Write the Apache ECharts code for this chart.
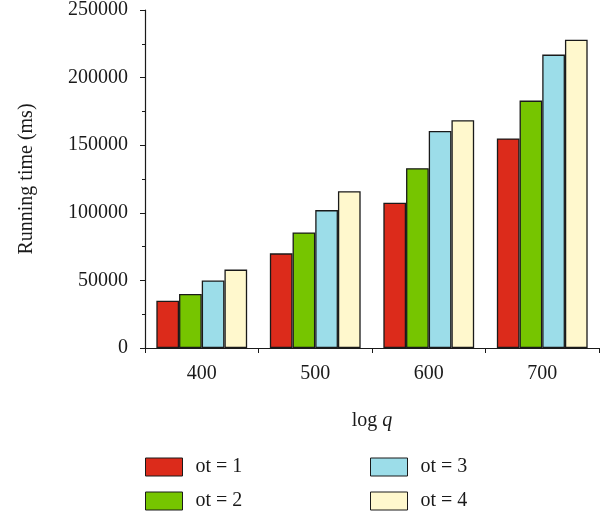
<!DOCTYPE html>
<html>
<head>
<meta charset="utf-8">
<style>
  html, body { margin: 0; padding: 0; background: #fff; }
  #chart { width: 606px; height: 518px; }
</style>
<script src="https://cdn.jsdelivr.net/npm/echarts@6/dist/echarts.min.js"></script>
</head>
<body>
<div id="chart"></div>
<script>
// Running time per log q, grouped by ot setting
const categories = ['400', '500', '600', '700'];
const seriesNames = ['ot = 1', 'ot = 2', 'ot = 3', 'ot = 4'];
const ot1 = [35000, 70000, 107500, 155000];
const ot2 = [40000, 85500, 133000, 183000];
const ot3 = [50000, 102000, 160500, 217000];
const ot4 = [58000, 116000, 168500, 228000];
const colors = ['#dc2b1b', '#76c500', '#9cdde9', '#fff8cd'];

const FONT = 'Liberation Serif';
const FS = 20;
const INK = '#1a1a1a';
const chart = echarts.init(document.getElementById('chart'));

const values = [ot1, ot2, ot3, ot4];
const series = values.map((data, i) => ({
  name: seriesNames[i],
  type: 'bar',
  data: data,
  barGap: '0%',
  barCategoryGap: '20%',
  itemStyle: { color: colors[i], borderColor: INK, borderWidth: 1.3 },
  emphasis: { disabled: true }
}));

const legendCommon = {
  orient: 'vertical',
  itemWidth: 37,
  itemHeight: 18,
  itemGap: 14,
  icon: 'rect',
  textStyle: { fontFamily: FONT, fontSize: FS, color: INK, padding: [0, 0, 0, 8] },
  selectedMode: false,
  itemStyle: { borderColor: INK, borderWidth: 1 }
};

chart.setOption({
  animation: false,
  color: colors,
  grid: { left: 145, right: 7, top: 10, bottom: 170, containLabel: false },
  legend: [
    Object.assign({ left: 140, top: 452, data: [seriesNames[0], seriesNames[1]] }, legendCommon),
    Object.assign({ left: 365, top: 452, data: [seriesNames[2], seriesNames[3]] }, legendCommon)
  ],
  xAxis: {
    type: 'category',
    data: categories,
    name: '{n|log }{q|q}',
    nameLocation: 'middle',
    nameGap: 63,
    nameTextStyle: {
      rich: {
        n: { fontFamily: FONT, fontSize: FS, color: INK },
        q: { fontFamily: FONT, fontSize: FS, color: INK, fontStyle: 'italic' }
      }
    },
    axisLine: { lineStyle: { color: INK, width: 1.2 } },
    axisTick: { show: true, alignWithLabel: false, length: 5, lineStyle: { color: INK } },
    axisLabel: { fontFamily: FONT, fontSize: FS, color: INK, margin: 16 }
  },
  yAxis: {
    type: 'value',
    min: 0,
    max: 250000,
    interval: 50000,
    name: 'Running time (ms)',
    nameLocation: 'middle',
    nameGap: 108,
    nameTextStyle: { fontFamily: FONT, fontSize: FS, color: INK },
    axisLine: { show: true, lineStyle: { color: INK, width: 1.2 } },
    axisTick: { show: true, length: 5, lineStyle: { color: INK } },
    minorTick: { show: true, splitNumber: 2, length: 3, lineStyle: { color: INK } },
    splitLine: { show: false },
    axisLabel: { fontFamily: FONT, fontSize: FS, color: INK, margin: 17, formatter: v => String(v) }
  },
  series: series
});
</script>
</body>
</html>
